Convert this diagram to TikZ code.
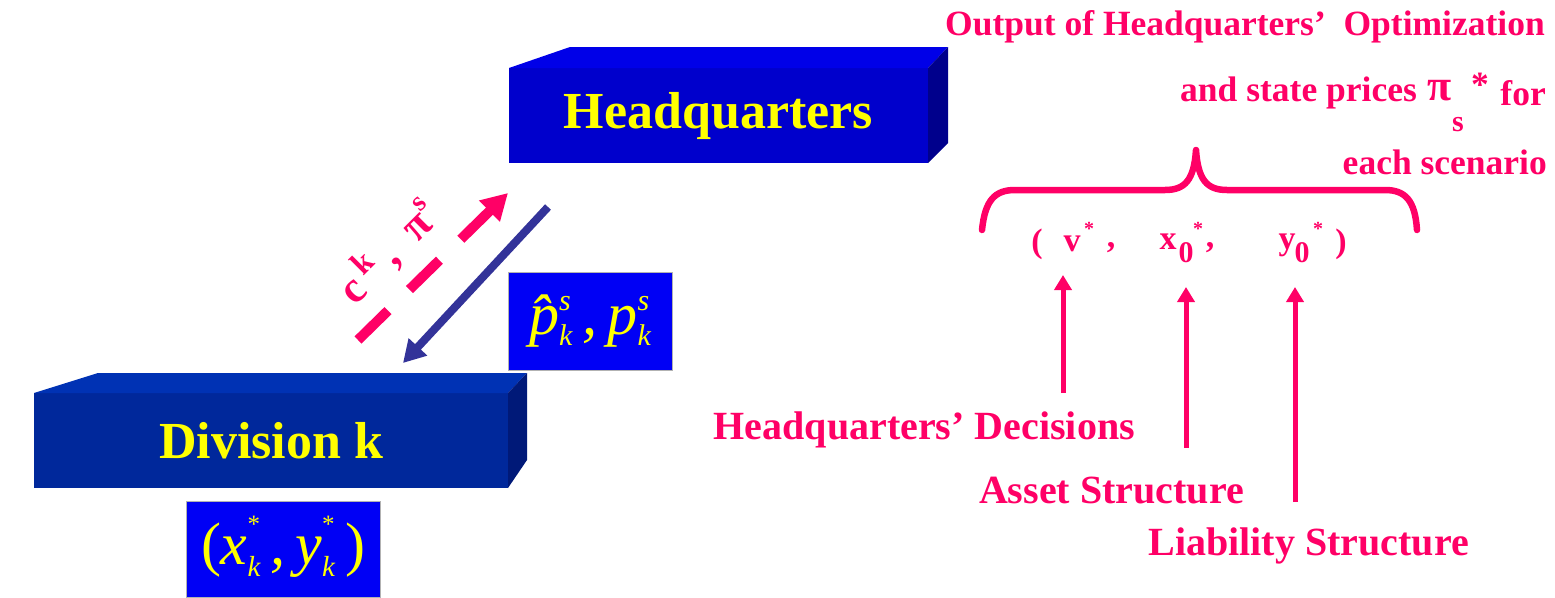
\documentclass[tikz,border=0pt]{standalone}
\usepackage{fontspec}
\setmainfont{Liberation Serif}
\usetikzlibrary{arrows.meta}
\definecolor{hqfront}{RGB}{0,0,204}
\definecolor{hqtop}{RGB}{0,0,232}
\definecolor{hqside}{RGB}{0,0,140}
\definecolor{dvfront}{RGB}{0,40,155}
\definecolor{dvtop}{RGB}{0,50,180}
\definecolor{dvside}{RGB}{0,25,120}
\definecolor{smallblue}{RGB}{0,0,245}
\definecolor{txtyellow}{RGB}{255,255,0}
\definecolor{hotred}{RGB}{255,0,102}
\definecolor{navyarrow}{RGB}{51,51,153}
% stacked superscript / subscript for the math boxes
\newcommand{\supsubp}[2]{{\fontsize{30}{30}\selectfont\rlap{\raisebox{24pt}{#1}}\raisebox{-11pt}{#2}}}
\newcommand{\supsubx}[2]{{\fontsize{29}{29}\selectfont\rlap{\raisebox{32pt}{\upshape\fontsize{25}{25}\selectfont #1}}\raisebox{-12pt}{#2}}}
\tikzset{
  face/.style={inner sep=0pt, outer sep=0pt, text=txtyellow,
    font=\fontsize{52}{60}\selectfont\bfseries},
  mathbox/.style={fill=smallblue, draw=gray!60, line width=1pt, inner sep=0pt},
  mathtext/.style={text=txtyellow, inner sep=0pt},
  redlabel/.style={text=hotred, inner sep=0pt, font=\fontsize{40}{48}\selectfont\bfseries},
  redtop/.style={text=hotred, inner sep=0pt, font=\fontsize{35.5}{42}\selectfont\bfseries},
  tuple/.style={text=hotred, inner sep=0pt, font=\fontsize{34}{40}\selectfont\bfseries},
  redup/.style={draw=hotred, line width=5pt, -{Triangle[length=15pt,width=17pt]}},
  navyline/.style={draw=navyarrow, line width=8pt, -{Triangle[length=22pt,width=24pt]}},
  reddash/.style={draw=hotred, line width=10pt, dash pattern=on 42pt off 30pt,
    -{Triangle[length=26pt,width=28pt]}},
  bracestyle/.style={draw=hotred, line width=6.5pt, line cap=round, line join=round}
}
\begin{document}
\begin{tikzpicture}[x=1pt,y=-1pt]
\useasboundingbox (0,0) rectangle (1555,597);

% Headquarters block
\node[face, fill=hqfront, minimum width=419pt, minimum height=95pt] (hq) at (718.5,115.5) {};
\fill[hqtop] (hq.north west) -- ++(61,-21) -- ++(378,0) -- (hq.north east) -- cycle;
\fill[hqside] (hq.north east) -- ++(20,-21) -- ++(0,96) -- (hq.south east) -- cycle;
\node[face] (hqtext) at (hq.center) {Headquarters};

% Division block
\node[face, fill=dvfront, minimum width=474pt, minimum height=95pt] (div) at (271,440.5) {};
\fill[dvtop] (div.north west) -- ++(64,-20) -- ++(429,0) -- (div.north east) -- cycle;
\fill[dvside] (div.north east) -- ++(19,-20) -- ++(0,87) -- (div.south east) -- cycle;
\node[face] (divtext) at (div.center) {Division k};

% small math boxes
\node[mathbox, minimum width=164pt, minimum height=98pt] (pbox) at (590,321) {};
\node[mathtext, font=\fontsize{60}{60}\selectfont\itshape]
  (ptext) at (pbox.center) {\^{p}\supsubp{s}{k}\,,\,p\supsubp{s}{k}};
\node[mathbox, minimum width=194pt, minimum height=96pt] (xbox) at (283,549.5) {};
\node[mathtext, font=\fontsize{60}{60}\selectfont\itshape]
  (xtext) at (283,547) {{\upshape(}x\supsubx{*}{k}\,,\,y\supsubx{*}{k}\,{\upshape)}};

% arrows between blocks
\coordinate (nstart) at (548,207);
\coordinate (nend) at (403,363);
\draw[navyline] (nstart) -- (nend);
\coordinate (dstart) at (358,340);
\coordinate (dend) at (508,193);
\draw[reddash] (dstart) -- (dend);
\node[text=hotred, inner sep=0pt, rotate=45, font=\fontsize{44}{50}\selectfont\bfseries]
  (cklab) at (388,252) {c\,\raisebox{0.35em}{\fontsize{32}{32}\selectfont k}\ ,\ \ π\raisebox{0.45em}{\fontsize{28}{30}\selectfont s}};

% right side texts
\node[redtop, anchor=west] (out1) at (945,27) {Output of Headquarters'\ \ Optimization};
\node[redtop, anchor=west] (out2a) at (1180,93) {and state prices};
\node[text=hotred, inner sep=0pt, font=\fontsize{44}{50}\selectfont\bfseries] (pi) at (1440,91) {π};
\node[redtop] (star) at (1480,85) {*};
\node[redtop, anchor=east] (for) at (1546,93) {for};
\node[text=hotred, inner sep=0pt, font=\fontsize{30}{36}\selectfont\bfseries] (sidx) at (1458,125) {s};
\node[redtop, anchor=east] (out3) at (1547,162) {each scenario};

% brace
\draw[bracestyle] (982,230) .. controls (985,200) and (995,190) .. (1015,190)
  -- (1165,190) .. controls (1185,190) and (1194,180) .. (1196,150)
  .. controls (1198,180) and (1207,190) .. (1227,190)
  -- (1385,190) .. controls (1405,190) and (1415,200) .. (1417,230);

% tuple
\node[tuple] (lp) at (1037,244) {(};
\node[tuple] (v) at (1072,244) {v};
\node[tuple, font=\fontsize{20}{20}\selectfont\bfseries] (vs) at (1089,229) {*};
\node[tuple] (c1) at (1111,248) {,};
\node[tuple] (x0) at (1168,242) {x};
\node[tuple, font=\fontsize{30}{30}\selectfont\bfseries] (x0i) at (1186,253) {0};
\node[tuple, font=\fontsize{20}{20}\selectfont\bfseries] (x0s) at (1198,229) {*};
\node[tuple] (c2) at (1210,248) {,};
\node[tuple] (y0) at (1287,245) {y};
\node[tuple, font=\fontsize{30}{30}\selectfont\bfseries] (y0i) at (1302,253) {0};
\node[tuple, font=\fontsize{20}{20}\selectfont\bfseries] (y0s) at (1318,229) {*};
\node[tuple] (rp) at (1341,244) {)};

% labels and arrows
\node[redlabel, anchor=east] (hqd) at (1135,430) {Headquarters' Decisions};
\node[redlabel, anchor=east] (ass) at (1244,490) {Asset Structure};
\node[redlabel, anchor=east] (lia) at (1469,546) {Liability Structure};
\coordinate (a1) at (1063,393);
\coordinate (t1) at (1063,275);
\coordinate (a2) at (1186,448);
\coordinate (t2) at (1186,287);
\coordinate (a3) at (1295,502);
\coordinate (t3) at (1295,287);
\draw[redup] (a1) -- (t1);
\draw[redup] (a2) -- (t2);
\draw[redup] (a3) -- (t3);
\end{tikzpicture}
\end{document}
